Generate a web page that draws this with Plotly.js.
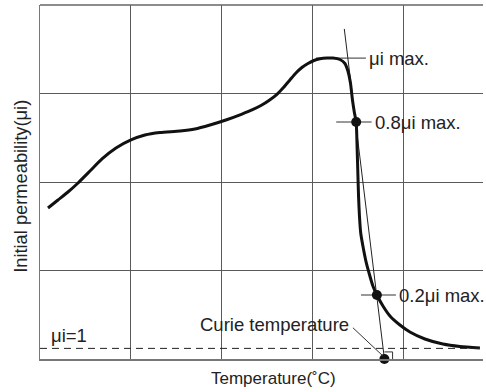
<!DOCTYPE html>
<html>
<head>
<meta charset="utf-8">
<script src="https://cdn.plot.ly/plotly-3.0.1.min.js"></script>
<style>html,body{margin:0;padding:0;background:#fff;}#chart{width:486px;height:392px;}</style>
</head>
<body>
<div id="chart"></div>
<script>
// Temperature (grid units) and initial permeability (grid units)
const tempX = [0.088, 0.198, 0.308, 0.419, 0.551, 0.683, 0.837, 1.002, 1.156, 1.322, 1.542, 1.707, 1.872, 2.048, 2.225,
  2.335, 2.434, 2.522, 2.610, 2.687, 2.753, 2.819, 2.885, 2.952, 3.018, 3.084, 3.161, 3.227, 3.304, 3.359, 3.392, 3.420, 3.442, 3.464, 3.483,
  3.494, 3.502, 3.509, 3.519, 3.533, 3.557, 3.594, 3.634, 3.667, 3.711, 3.778, 3.855, 3.965, 4.075, 4.240, 4.438, 4.626, 4.846];
const permY = [1.706, 1.797, 1.887, 1.989, 2.124, 2.260, 2.384, 2.475, 2.531, 2.559, 2.576, 2.599, 2.644, 2.701, 2.768,
  2.814, 2.864, 2.921, 2.991, 3.073, 3.153, 3.232, 3.294, 3.339, 3.373, 3.392, 3.401, 3.401, 3.384, 3.339, 3.254, 3.119, 2.927, 2.780, 2.678,
  2.362, 2.079, 1.842, 1.616, 1.424, 1.277, 1.088, 0.938, 0.825, 0.723, 0.599, 0.486, 0.384, 0.305, 0.226, 0.169, 0.141, 0.124];

// Reference levels
const muMaxPoint = [3.19, 3.40];     // peak
const mu08Point  = [3.483, 2.678];   // 0.8 µi max
const mu02Point  = [3.711, 0.723];   // 0.2 µi max
const curiePoint = [3.794, 0.0];     // tangent meets baseline
const muOne = 0.12;                  // µi = 1 level
const tangentX = [3.352, curiePoint[0]];
const tangentY = [3.73, curiePoint[1]];

const labelTexts = ['μi max.', '0.8μi max.', '0.2μi max.', 'Curie temperature', 'μi=1'];
const xTitle = 'Temperature(˚C)';
const yTitle = 'Initial permeability(μi)';

const FONT = 'Liberation Sans, Arial, Helvetica, sans-serif';
const TXT = '#222';
const GRID = '#5a5a5a';

// level marker bars (length left, right of the point)
function bar(pt, left, right) {
  return {x: [pt[0] - left, pt[0] + right], y: [pt[1], pt[1]], mode: 'lines',
    line: {color: '#333', width: 1}, hoverinfo: 'skip', showlegend: false};
}

const sq = 0.09, sqh = 0.08;
const traces = [
  {x: tangentX, y: tangentY, mode: 'lines', line: {color: '#222', width: 1}, showlegend: false},
  bar(muMaxPoint, 0.15, 0.40),
  bar(mu08Point, 0.22, 0.17),
  bar(mu02Point, 0.175, 0.21),
  // right-angle marker at Curie point
  {x: [curiePoint[0], curiePoint[0] + sq, curiePoint[0] + sq], y: [curiePoint[1] + sqh, curiePoint[1] + sqh, curiePoint[1]],
   mode: 'lines', line: {color: '#333', width: 1}, showlegend: false},
  {x: tempX, y: permY, mode: 'lines', line: {color: '#111', width: 3, shape: 'spline', smoothing: 0.6}, showlegend: false},
  {x: [mu08Point[0], mu02Point[0], curiePoint[0]], y: [mu08Point[1], mu02Point[1], curiePoint[1]],
   mode: 'markers', marker: {color: '#111', size: 10}, showlegend: false, cliponaxis: false}
];

const layout = {
  width: 486, height: 392,
  margin: {l: 40, r: 3, t: 5, b: 33},
  paper_bgcolor: '#fff', plot_bgcolor: '#fff',
  font: {family: FONT, size: 18.5, color: TXT},
  showlegend: false,
  xaxis: {range: [0, 4.88], tick0: 0, dtick: 1, showgrid: true, gridcolor: GRID, gridwidth: 1,
    showticklabels: false, ticks: '', zeroline: false, showline: true, linecolor: '#777', linewidth: 1.5, fixedrange: true},
  yaxis: {range: [0, 4], tick0: 0, dtick: 1, showgrid: true, gridcolor: GRID, gridwidth: 1,
    showticklabels: false, ticks: '', zeroline: false, showline: true, linecolor: '#777', linewidth: 1.5, fixedrange: true},
  shapes: [
    {type: 'line', xref: 'paper', yref: 'paper', x0: 0, x1: 1, y0: 1, y1: 1, line: {color: '#666', width: 1.5}},
    {type: 'line', xref: 'paper', yref: 'y', x0: 0, x1: 1, y0: muOne, y1: muOne, line: {color: '#222', width: 1, dash: '7px,5px'}},
    {type: 'line', xref: 'x', yref: 'y', x0: 3.447, y0: 0.353, x1: 3.778, y1: 0.034, line: {color: '#333', width: 1}}
  ],
  annotations: [
    {x: muMaxPoint[0] + 0.41, y: muMaxPoint[1], text: labelTexts[0], xanchor: 'left', yanchor: 'middle', showarrow: false},
    {x: mu08Point[0] + 0.185, y: mu08Point[1], text: labelTexts[1], xanchor: 'left', yanchor: 'middle', showarrow: false},
    {x: mu02Point[0] + 0.225, y: mu02Point[1], text: labelTexts[2], xanchor: 'left', yanchor: 'middle', showarrow: false},
    {x: 3.43, y: 0.39, text: labelTexts[3], xanchor: 'right', yanchor: 'middle', showarrow: false},
    {x: 0.1, y: muOne, text: labelTexts[4], xanchor: 'left', yanchor: 'bottom', showarrow: false},
    {xref: 'paper', yref: 'paper', x: 0.526, y: -0.054, text: xTitle, xanchor: 'center', yanchor: 'middle', showarrow: false, font: {size: 17}},
    {xref: 'paper', yref: 'paper', x: -0.043, y: 0.489, text: yTitle, textangle: -90, xanchor: 'center', yanchor: 'middle', showarrow: false, font: {size: 18.3}}
  ]
};

Plotly.newPlot('chart', traces, layout, {displayModeBar: false, staticPlot: true});
</script>
</body>
</html>
